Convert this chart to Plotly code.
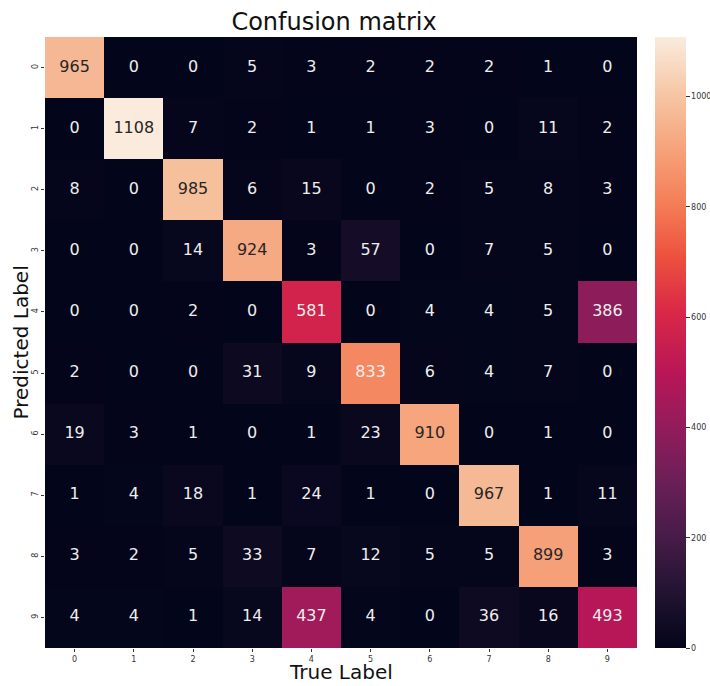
import plotly.graph_objects as go

labels = ["0", "1", "2", "3", "4", "5", "6", "7", "8", "9"]
# rows = predicted label, columns = true label
matrix = [
    [965, 0, 0, 5, 3, 2, 2, 2, 1, 0],
    [0, 1108, 7, 2, 1, 1, 3, 0, 11, 2],
    [8, 0, 985, 6, 15, 0, 2, 5, 8, 3],
    [0, 0, 14, 924, 3, 57, 0, 7, 5, 0],
    [0, 0, 2, 0, 581, 0, 4, 4, 5, 386],
    [2, 0, 0, 31, 9, 833, 6, 4, 7, 0],
    [19, 3, 1, 0, 1, 23, 910, 0, 1, 0],
    [1, 4, 18, 1, 24, 1, 0, 967, 1, 11],
    [3, 2, 5, 33, 7, 12, 5, 5, 899, 3],
    [4, 4, 1, 14, 437, 4, 0, 36, 16, 493],
]
cbar_ticks = [0, 200, 400, 600, 800, 1000]

rocket = [
    [0.00, "#03051a"], [0.09, "#221331"], [0.18, "#451c47"], [0.27, "#6a1f56"],
    [0.36, "#921c5b"], [0.45, "#b91657"], [0.55, "#d92847"], [0.64, "#ed513e"],
    [0.73, "#f47f58"], [0.82, "#f6a47c"], [0.91, "#f6c8a7"], [1.00, "#faebdd"],
]

vmax = max(max(r) for r in matrix)

fig = go.Figure()
fig.add_trace(go.Heatmap(
    z=matrix, x=labels, y=labels, colorscale=rocket, zmin=0, zmax=vmax,
    xgap=0, ygap=0, hoverinfo="skip",
    colorbar=dict(
        thickness=31, len=1.0, lenmode="fraction", y=0.5, yanchor="middle",
        x=1.0304, xanchor="left", xpad=0, ypad=0, outlinewidth=0,
        tickvals=cbar_ticks, ticks="outside", ticklen=4, tickcolor="#333",
        tickfont=dict(size=8, color="#333", family="DejaVu Sans"),
    ),
))

xs, ys, texts, colors = [], [], [], []
for i, row in enumerate(matrix):
    for j, v in enumerate(row):
        xs.append(labels[j])
        ys.append(labels[i])
        texts.append(str(v))
        colors.append("#262626" if v / vmax > 0.78 else "#eeeeee")
fig.add_trace(go.Scatter(
    x=xs, y=ys, text=texts, mode="text", hoverinfo="skip", showlegend=False,
    textfont=dict(size=16, color=colors, family="DejaVu Sans"),
))

fig.update_layout(
    width=710, height=686,
    margin=dict(l=45, r=73, t=37, b=38, autoexpand=False),
    paper_bgcolor="white", plot_bgcolor="white",
    font=dict(family="DejaVu Sans", color="#262626"),
    title=dict(text="Confusion matrix", x=(334 - 45) / 592, xref="paper", xanchor="center",
               y=(686 - 22) / 686, yanchor="middle", font=dict(size=24, color="#111")),
    xaxis=dict(showgrid=False, zeroline=False, showline=False, ticks="outside", ticklen=3,
               tickcolor="#333", tickfont=dict(size=8, color="#333"), automargin=False),
    yaxis=dict(showgrid=False, zeroline=False, showline=False, ticks="outside", ticklen=3,
               tickcolor="#333", tickfont=dict(size=8, color="#333"), autorange="reversed",
               tickangle=-90, automargin=False),
    annotations=[
        dict(text="True Label", xref="paper", yref="paper", x=0.5, y=-(672 - 648) / 611,
             yanchor="middle", showarrow=False, font=dict(size=20, color="#111")),
        dict(text="Predicted Label", xref="paper", yref="paper", x=-(45 - 20) / 592, y=0.5,
             xanchor="center", yanchor="middle", textangle=-90, showarrow=False,
             font=dict(size=20, color="#111")),
    ],
)

fig.write_html("out.html", config={"displayModeBar": False},
               post_script="document.body.style.margin='0px';")
